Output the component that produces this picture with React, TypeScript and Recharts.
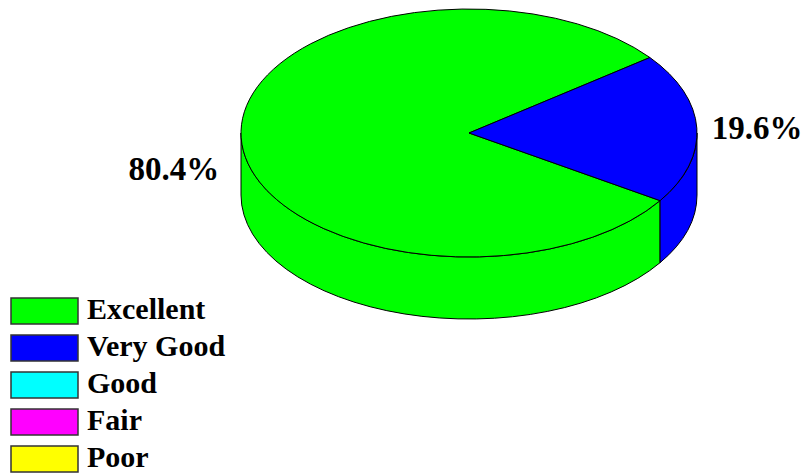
import React from 'react';
import { PieChart, Pie, Cell, Legend } from 'recharts';

const categories = ['Excellent', 'Very Good', 'Good', 'Fair', 'Poor'];
const shares = [80.4, 19.6, 0, 0, 0];
const colors = ['#00ff00', '#0000ff', '#00ffff', '#ff00ff', '#ffff00'];

const data = categories.map((name, i) => ({ name, value: shares[i] }));

// 3D look: squash the pie into an ellipse and add a side wall
const TILT = 124 / 228;
const DEPTH = 62;
const FONT = '"Liberation Serif", "Times New Roman", serif';

const rad = (a: number) => (a * Math.PI) / 180;

const Slice3D = (props: any) => {
  const { cx, cy, outerRadius, startAngle, endAngle, fill } = props;
  if (Math.abs(endAngle - startAngle) < 0.01) return <g />;
  const rx = outerRadius;
  const ry = outerRadius * TILT;
  const pt = (a: number, dy = 0) => [cx + rx * Math.cos(rad(a)), cy - ry * Math.sin(rad(a)) + dy];
  const a1 = Math.min(startAngle, endAngle);
  const a2 = Math.max(startAngle, endAngle);

  // front wall: parts of [a1, a2] lying in the lower half (180..360 mod 360)
  const walls: string[] = [];
  for (let k = -1; k <= 2; k++) {
    const lo = Math.max(a1, 180 + 360 * k);
    const hi = Math.min(a2, 360 + 360 * k);
    if (hi - lo > 0.01) {
      const [x1, y1] = pt(lo);
      const [x2, y2] = pt(hi);
      const large = hi - lo > 180 ? 1 : 0;
      walls.push(
        `M${x1},${y1} A${rx},${ry} 0 ${large} 0 ${x2},${y2} L${x2},${y2 + DEPTH} A${rx},${ry} 0 ${large} 1 ${x1},${y1 + DEPTH} Z`
      );
    }
  }

  const [sx, sy] = pt(a1);
  const [ex, ey] = pt(a2);
  const large = a2 - a1 > 180 ? 1 : 0;
  const top = `M${cx},${cy} L${sx},${sy} A${rx},${ry} 0 ${large} 0 ${ex},${ey} Z`;

  return (
    <g>
      {walls.map((d, i) => (
        <path key={i} d={d} fill={fill} stroke="#000" strokeWidth={1} />
      ))}
      <path d={top} fill={fill} stroke="#000" strokeWidth={1} />
    </g>
  );
};

const renderLabel = (props: any) => {
  const { cx, cy, midAngle, outerRadius, percent, value } = props;
  if (!value) return null;
  const c = Math.cos(rad(midAngle));
  const s = Math.sin(rad(midAngle));
  const left = c < 0;
  const x = cx + outerRadius * c + (left ? -22 : 15);
  const y = cy - outerRadius * TILT * s + (s < 0 ? DEPTH / 2 : 0) + 11;
  return (
    <text
      x={x}
      y={y}
      textAnchor={left ? 'end' : 'start'}
      fontFamily={FONT}
      fontWeight="bold"
      fontSize={33}
      fill="#000"
    >
      {`${(percent * 100).toFixed(1)}%`}
    </text>
  );
};

const renderLegend = () => (
  <svg width={260} height={186}>
    {categories.map((name, i) => (
      <g key={name}>
        <rect x={11} y={8 + i * 37} width={67} height={26} fill={colors[i]} stroke="#333" strokeWidth={1.5} />
        <text x={87} y={29 + i * 37} fontFamily={FONT} fontWeight="bold" fontSize={30} fill="#000">
          {name}
        </text>
      </g>
    ))}
  </svg>
);

export default function App() {
  return (
    <div style={{ position: 'absolute', left: 0, top: 0, background: '#fff' }}>
      <PieChart width={806} height={476} margin={{ top: 0, right: 0, bottom: 0, left: 0 }}>
        <Pie
          data={data}
          dataKey="value"
          nameKey="name"
          cx={469}
          cy={133}
          outerRadius={228}
          startAngle={37.5}
          endAngle={397.5}
          shape={Slice3D}
          label={renderLabel}
          labelLine={false}
          isAnimationActive={false}
        >
          {data.map((d, i) => (
            <Cell key={d.name} fill={colors[i]} />
          ))}
        </Pie>
        <Legend
          content={renderLegend}
          wrapperStyle={{ position: 'absolute', left: 0, top: 290, width: 260, height: 186 }}
        />
      </PieChart>
    </div>
  );
}
